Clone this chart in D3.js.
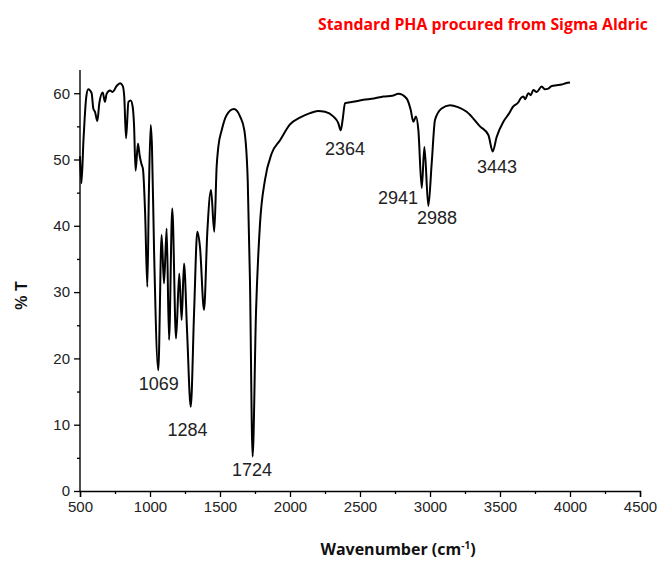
<!DOCTYPE html>
<html>
<head>
<meta charset="utf-8">
<script src="https://cdn.jsdelivr.net/npm/d3@7"></script>
<style>
  body { margin: 0; background: #fff; }
  svg { display: block; }
</style>
</head>
<body>
<svg class="ir-chart"></svg>
<script>
// spectrum: wavenumber (cm-1) and transmittance (%T)
const wavenumber = [
  500, 510, 525, 545, 559, 583, 595, 607, 624, 638, 662, 678, 690, 714, 733, 762, 786, 805,
  816, 829, 846, 862, 876, 886, 897, 914, 926, 938, 950, 965, 981, 992, 1005, 1014, 1029,
  1059, 1083, 1100, 1119, 1136, 1159, 1186, 1209, 1226, 1243, 1265, 1291, 1315, 1338, 1357,
  1386, 1409, 1436, 1459, 1476, 1488, 1512, 1548, 1600, 1643, 1674, 1698, 1714, 1733, 1757,
  1786, 1821, 1869, 1929, 2000, 2070, 2143, 2200, 2250, 2309, 2345, 2362, 2376, 2393, 2450,
  2524, 2600, 2667, 2730, 2774, 2833, 2862, 2881, 2900, 2917, 2941, 2960, 2988, 3012, 3036,
  3083, 3143, 3200, 3262, 3357, 3417, 3448, 3476, 3524, 3560, 3595, 3630, 3650, 3667, 3680,
  3702, 3720, 3738, 3762, 3798, 3820, 3845, 3870, 3905, 3940, 3970, 4000
];
const transmittance = [
  50.5, 46.4, 53, 59.5, 60.6, 60, 57.7, 57.2, 55.8, 58.5, 60.1, 58.7, 59.9, 60.4, 60.2, 61.1, 61.5, 61.1,
  59.5, 53.2, 58.7, 58.9, 58, 55.2, 48.3, 52.4, 50.6, 49.4, 48.5, 42, 30.8, 45, 55.2, 52, 36.3,
  18.2, 38.6, 31.3, 39.6, 22.8, 42.6, 23.0, 32.8, 25.8, 34.3, 24, 12.7, 27, 39.1, 36.8,
  27.3, 38.9, 45.4, 39.1, 48.9, 51.9, 54.4, 56.7, 57.6, 56.5, 54.4, 46.9, 31.8, 5.2, 26.8,
  40.4, 46.9, 50.9, 52.9, 55.3, 56.3, 57, 57.3, 57.2, 56.5, 55.5, 54.4, 56, 58.5, 58.7,
  59, 59.2, 59.5, 59.6, 59.9, 59.2, 57.5, 55.7, 56.5, 54.4, 45.7, 51.9, 43.0, 49.4, 56,
  57.7, 58.2, 57.9, 57.2, 55, 53.7, 51.2, 53.4, 55.7, 56.8, 58, 58.6, 59.3, 59.5, 59.1,
  60, 59.7, 60.5, 60.2, 61, 60.6, 60.7, 61.1, 61.2, 61.3, 61.5, 61.6
];

const peakLabels = ['1069', '1284', '1724', '2364', '2941', '2988', '3443'];
// where each label sits, in data units (wavenumber, %T)
const peakLabelX = [1062, 1268, 1729, 2393, 2771, 3050, 3479];
const peakLabelY = [16.2, 9.2, 3.2, 51.7, 44.2, 41.2, 48.9];

const xTicks = [500, 1000, 1500, 2000, 2500, 3000, 3500, 4000, 4500];
const yTicks = [0, 10, 20, 30, 40, 50, 60];

const width = 659, height = 561;
const margin = { top: 70, right: 19, bottom: 70, left: 80 };

const data = wavenumber.map((w, i) => ({ w, t: transmittance[i] }));

const svg = d3.select('.ir-chart')
  .attr('width', width)
  .attr('height', height)
  .style('font-family', 'Liberation Sans, Arial, sans-serif');

const x = d3.scaleLinear()
  .domain([500, 4500])
  .range([margin.left, width - margin.right]);

const y = d3.scaleLinear()
  .domain([0, 63.5])
  .range([height - margin.bottom, margin.top]);

// minor ticks first, then major ones with labels
svg.append('g')
  .attr('transform', `translate(0,${y(0)})`)
  .call(d3.axisBottom(x).tickValues(d3.range(750, 4500, 500)).tickSize(3).tickFormat(''))
  .call((g) => g.select('.domain').remove())
  .call((g) => g.selectAll('.tick line').attr('stroke-width', 1.3));

svg.append('g')
  .attr('transform', `translate(0,${y(0)})`)
  .call(d3.axisBottom(x).tickValues(xTicks).tickSize(6).tickPadding(4).tickFormat(d3.format('d')))
  .call((g) => g.select('.domain').attr('stroke-width', 1.4))
  .call((g) => g.selectAll('.tick line').attr('stroke-width', 1.3))
  .call((g) => g.selectAll('.tick text').attr('font-size', 15).attr('fill', '#222'));

svg.append('g')
  .attr('transform', `translate(${x(500)},0)`)
  .call(d3.axisLeft(y).tickValues(d3.range(5, 65, 10)).tickSize(3).tickFormat(''))
  .call((g) => g.select('.domain').remove())
  .call((g) => g.selectAll('.tick line').attr('stroke-width', 1.3));

svg.append('g')
  .attr('transform', `translate(${x(500)},0)`)
  .call(d3.axisLeft(y).tickValues(yTicks).tickSize(6).tickPadding(4).tickFormat(d3.format('d')))
  .call((g) => g.select('.domain').attr('stroke-width', 1.4).attr('d', `M0,${y(0)}V${y(63.5)}`))
  .call((g) => g.selectAll('.tick line').attr('stroke-width', 1.3))
  .call((g) => g.selectAll('.tick text').attr('font-size', 15).attr('fill', '#222'));

const line = d3.line()
  .x((d) => x(d.w))
  .y((d) => y(d.t))
  .curve(d3.curveMonotoneX);

svg.append('path')
  .datum(data)
  .attr('fill', 'none')
  .attr('stroke', '#000')
  .attr('stroke-width', 2)
  .attr('stroke-linejoin', 'round')
  .attr('d', line);

svg.append('g')
  .selectAll('text')
  .data(peakLabels)
  .join('text')
  .attr('x', (d, i) => x(peakLabelX[i]))
  .attr('y', (d, i) => y(peakLabelY[i]))
  .attr('text-anchor', 'middle')
  .attr('dy', '0.35em')
  .attr('font-size', 18)
  .attr('fill', '#222')
  .text((d) => d);

// title and axis titles
svg.append('text')
  .attr('x', 318)
  .attr('y', 30)
  .attr('font-family', 'Open Sans, sans-serif')
  .attr('font-weight', 'bold')
  .attr('font-size', 15.5)
  .attr('fill', '#ff0000')
  .attr('textLength', 330)
  .attr('lengthAdjust', 'spacingAndGlyphs')
  .text('Standard PHA procured from Sigma Aldric');

const xTitle = svg.append('text')
  .attr('x', 398)
  .attr('y', 555)
  .attr('text-anchor', 'middle')
  .attr('font-family', 'Open Sans, sans-serif')
  .attr('font-weight', 'bold')
  .attr('font-size', 16)
  .attr('fill', '#111');
xTitle.append('tspan').text('Wavenumber (cm');
xTitle.append('tspan').attr('dy', -6).attr('font-size', 10).text('-1');
xTitle.append('tspan').attr('dy', 6).text(')');

svg.append('text')
  .attr('transform', `translate(27,${y(29.5)}) rotate(-90)`)
  .attr('text-anchor', 'middle')
  .attr('font-weight', 'bold')
  .attr('font-size', 16)
  .attr('fill', '#111')
  .text('% T');
</script>
</body>
</html>
